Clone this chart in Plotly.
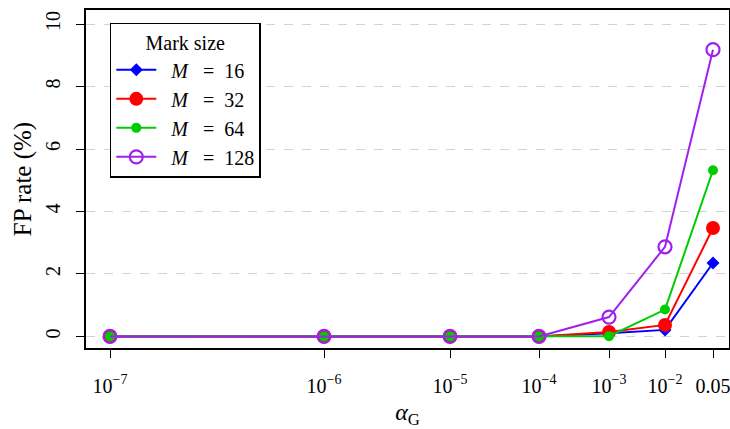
import plotly.graph_objects as go

# x categories (alpha_G) and their position along the (non-uniform) axis
alpha_labels = ["10<sup>−7</sup>", "10<sup>−6</sup>", "10<sup>−5</sup>", "10<sup>−4</sup>",
                "10<sup>−3</sup>", "10<sup>−2</sup>", "0.05"]
alpha_pos = [0, 214, 340, 429, 499, 555, 603]

fp_m16 = [0, 0, 0, 0, 0.10, 0.21, 2.35]
fp_m32 = [0, 0, 0, 0, 0.14, 0.37, 3.47]
fp_m64 = [0, 0, 0, 0, 0.01, 0.86, 5.32]
fp_m128 = [0, 0, 0, 0, 0.62, 2.87, 9.18]

y_ticks = [0, 2, 4, 6, 8, 10]

FONT = "Liberation Serif"
SP = "&nbsp;"

def lab(n):
    return f"{SP*2}<i>M</i>{SP*3}={SP*2}{n}"

series = [
    (lab(16), fp_m16, "#0000FF", dict(symbol="diamond", size=10, color="#0000FF")),
    (lab(32), fp_m32, "#FF0000", dict(symbol="circle", size=14, color="#FF0000")),
    (lab(64), fp_m64, "#00CD00", dict(symbol="circle", size=10, color="#00CD00")),
    (lab(128), fp_m128, "#A020F0",
     dict(symbol="circle-open", size=13, color="#A020F0", line=dict(width=2.2, color="#A020F0"))),
]

fig = go.Figure()
for name, vals, col, mk in series:
    fig.add_trace(go.Scatter(
        x=alpha_pos, y=vals, name=name, mode="lines+markers",
        line=dict(color=col, width=2), marker=mk,
    ))

fig.update_layout(
    width=730, height=429,
    margin=dict(l=86, r=1, t=10, b=81, autoexpand=False),
    paper_bgcolor="white", plot_bgcolor="white",
    font=dict(family=FONT, size=20, color="black"),
    showlegend=True,
    legend=dict(
        x=0.037, y=0.962, xanchor="left", yanchor="top",
        bordercolor="black", borderwidth=1.5, bgcolor="white",
        title=dict(text="Mark size", side="top center", font=dict(size=20)),
        font=dict(size=20), tracegroupgap=0, itemwidth=40,
    ),
    xaxis=dict(
        range=[-24, 619], tickmode="array", tickvals=alpha_pos, ticktext=alpha_labels,
        showgrid=False, zeroline=False, showline=True, linecolor="black", linewidth=1.5,
        mirror=True, ticks="outside", ticklen=8, tickcolor="black", tickwidth=1.2,
        tickfont=dict(size=20), ticklabelstandoff=11, automargin=False,
        ticklabeloverflow="allow",
        title=dict(text="<i>α</i><sub>G</sub>", font=dict(size=24), standoff=8),
    ),
    yaxis=dict(
        range=[-0.37, 10.45], tickmode="array", tickvals=y_ticks,
        showgrid=True, gridcolor="#D3D3D3", griddash="dash", gridwidth=1.3,
        zeroline=False, showline=True, linecolor="black", linewidth=1.5,
        mirror=True, ticks="outside", ticklen=8, tickcolor="black", tickwidth=1.2,
        tickangle=-90, tickfont=dict(size=20), ticklabelstandoff=8, automargin=False,
        ticklabeloverflow="allow",
        title=dict(text="FP rate (%)", font=dict(size=25), standoff=4),
    ),
)

fig.write_html("out.html", config={"displayModeBar": False},
               post_script="document.body.style.margin='0px';")
